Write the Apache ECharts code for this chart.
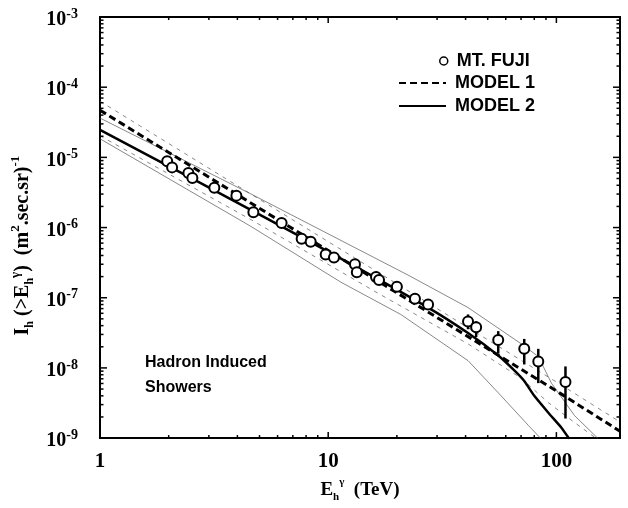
<!DOCTYPE html>
<html>
<head>
<meta charset="utf-8">
<script src="https://cdn.jsdelivr.net/npm/echarts@6.0.0/dist/echarts.min.js"></script>
<style>
  html, body { margin: 0; padding: 0; background: #fff; }
  #chart { width: 628px; height: 508px; }
</style>
</head>
<body>
<div id="chart"></div>
<script>
// Mt. Fuji measured points, I_h(>E) in (m^2.sec.sr)^-1 against E in TeV
const fujiE = [1.97, 2.07, 2.44, 2.54, 3.17, 3.96, 4.70, 6.25, 7.65, 8.38, 9.75, 10.6, 13.1, 13.35, 16.2, 16.7, 20.0, 24.0, 27.4, 41.0, 44.5, 55.6, 72.3, 83.3, 109.6]
const fujiI = [8.8e-6, 7.2e-6, 5.97e-6, 5.08e-6, 3.68e-6, 2.85e-6, 1.65e-6, 1.16e-6, 6.9e-7, 6.27e-7, 4.12e-7, 3.74e-7, 2.99e-7, 2.31e-7, 1.97e-7, 1.79e-7, 1.43e-7, 9.7e-8, 8.0e-8, 4.6e-8, 3.8e-8, 2.5e-8, 1.87e-8, 1.23e-8, 6.3e-9]

// error bars on the high energy points
const errE = [41.0, 44.5, 55.6, 72.3, 83.3, 109.6]
const errLo = [3.56e-8, 2.75e-8, 1.6e-8, 1.12e-8, 6.07e-9, 1.9e-9]
const errHi = [5.78e-8, 4.61e-8, 3.34e-8, 2.59e-8, 1.87e-8, 1.05e-8]

// model 1 (thick dashed) and its thin dashed band
const model1E = [1, 10, 100, 190]
const model1I = [4.7e-5, 4.7e-7, 4.7e-9, 1.25e-9]
const model1UpE = [1, 10, 100, 190]
const model1UpI = [6.3e-5, 6.3e-7, 6.3e-9, 1.7e-9]
const model1LoE = [1, 4.56, 17.0, 41.0, 70.2, 92.2, 120, 147]
const model1LoI = [2.03e-5, 1.31e-6, 1.1e-7, 2.2e-8, 7.1e-9, 3.2e-9, 1.67e-9, 1.03e-9]

// model 2 (thick solid) and its thin solid band
const model2E = [1, 2.75, 10, 27.4, 41.0, 55.6, 65.4, 72.3, 80.0, 92.2, 105, 114]
const model2I = [2.46e-5, 4.33e-6, 4.54e-7, 7.24e-8, 3.14e-8, 1.5e-8, 9.2e-9, 6.5e-9, 4.0e-9, 2.3e-9, 1.42e-9, 0.97e-9]
const model2UpE = [1, 4.56, 22.4, 41.0, 70.2, 83.4, 95.1, 120, 153]
const model2UpI = [3.63e-5, 3.04e-6, 2.1e-7, 7.24e-8, 2.2e-8, 1.45e-8, 6.07e-9, 2.1e-9, 0.97e-9]
const model2LoE = [1, 4.56, 11.35, 20.8, 41.0, 57.3, 75.3, 85.9]
const model2LoI = [1.84e-5, 1.05e-6, 1.67e-7, 5.78e-8, 1.27e-8, 3.99e-9, 1.52e-9, 0.97e-9]

// axes
const xMin = 1, xMax = 190
const yMin = 1e-9, yMax = 1e-3
const xDecades = [1, 10, 100]
const yDecades = [1e-9, 1e-8, 1e-7, 1e-6, 1e-5, 1e-4, 1e-3]
const minorSteps = [2, 3, 4, 5, 6, 7, 8, 9]

const zip = (a, b) => a.map((v, i) => [v, b[i]])

// tick marks inside the frame, on all four sides
const xTicks = []
xDecades.forEach(d => {
  xTicks.push([d, yMin, 6])
  minorSteps.forEach(m => { if (d * m < xMax) xTicks.push([d * m, yMin, 3]) })
})
const yTicks = []
yDecades.forEach(d => {
  yTicks.push([xMin, d, 7])
  if (d < yMax) minorSteps.forEach(m => yTicks.push([xMin, d * m, 3.5]))
})

const tickStyle = { stroke: '#000', lineWidth: 1.5 }

const chart = echarts.init(document.getElementById('chart'), null, { renderer: 'canvas' })

const serif = 'Liberation Serif'
const sans = 'Liberation Sans'

const option = {
  animation: false,
  backgroundColor: '#fff',
  grid: {
    left: 100,
    right: 8,
    top: 17,
    bottom: 61,
    show: true,
    borderColor: '#000',
    borderWidth: 2,
    backgroundColor: 'transparent'
  },
  title: {
    text: 'Hadron Induced\nShowers',
    left: 145,
    top: 350,
    padding: 0,
    textStyle: { fontFamily: sans, fontWeight: 'bold', fontSize: 16, lineHeight: 25, color: '#000' }
  },
  legend: [
    {
      data: [{ name: 'MT. FUJI', icon: 'circle', itemStyle: { color: '#fff', borderColor: '#000', borderWidth: 1.5, opacity: 1 } }],
      left: 439,
      top: 52,
      padding: 0,
      itemWidth: 8,
      itemHeight: 8,
      textStyle: { fontFamily: sans, fontWeight: 'bold', fontSize: 18, color: '#000', padding: [0, 0, 0, 4] }
    },
    {
      data: ['MODEL 1', 'MODEL 2'],
      orient: 'vertical',
      left: 398,
      top: 74,
      padding: 0,
      itemWidth: 47,
      itemHeight: 14,
      itemGap: 5,
      itemStyle: { opacity: 0 },
      textStyle: { fontFamily: sans, fontWeight: 'bold', fontSize: 18, color: '#000', padding: [0, 0, 0, 4] }
    }
  ],
  xAxis: {
    type: 'log',
    logBase: 10,
    min: xMin,
    max: xMax,
    axisLine: { show: false },
    axisTick: { show: false },
    splitLine: { show: false },
    axisLabel: {
      margin: 13,
      showMaxLabel: false,
      color: '#000',
      fontFamily: serif,
      fontWeight: 'bold',
      fontSize: 21,
      formatter: v => String(Math.round(v))
    },
    name: '{t|E}{sub|h}{sup|γ}{t|  (TeV)}',
    nameLocation: 'middle',
    nameGap: 37,
    nameTextStyle: {
      color: '#000',
      rich: {
        t: { fontFamily: serif, fontWeight: 'bold', fontSize: 19, lineHeight: 26, color: '#000' },
        sub: { fontFamily: serif, fontWeight: 'bold', fontSize: 11, lineHeight: 11, verticalAlign: 'bottom', color: '#000' },
        sup: { fontFamily: serif, fontWeight: 'bold', fontSize: 11, lineHeight: 11, verticalAlign: 'top', color: '#000' }
      }
    }
  },
  yAxis: {
    type: 'log',
    logBase: 10,
    min: yMin,
    max: yMax,
    axisLine: { show: false },
    axisTick: { show: false },
    splitLine: { show: false },
    axisLabel: {
      margin: 22,
      formatter: v => '{b|10}{s|' + Math.round(Math.log10(v)) + '}',
      rich: {
        b: { fontFamily: serif, fontWeight: 'bold', fontSize: 20, lineHeight: 20, padding: [6, 0, 0, 0], color: '#000' },
        s: { fontFamily: serif, fontWeight: 'bold', fontSize: 14, lineHeight: 14, verticalAlign: 'top', color: '#000' }
      }
    },
    name: '{t|I}{sub|h}{t| (>E}{sub|h}{sup|γ}{t|)  (m}{sup|2}{t|.sec.sr)}{sup|-1}',
    nameLocation: 'middle',
    nameRotate: 90,
    nameGap: 62,
    nameTextStyle: {
      color: '#000',
      padding: [0, 36, 0, 0],
      rich: {
        t: { fontFamily: serif, fontWeight: 'bold', fontSize: 20, lineHeight: 26, color: '#000' },
        sub: { fontFamily: serif, fontWeight: 'bold', fontSize: 12, lineHeight: 12, verticalAlign: 'bottom', color: '#000' },
        sup: { fontFamily: serif, fontWeight: 'bold', fontSize: 13, lineHeight: 13, verticalAlign: 'top', color: '#000' }
      }
    }
  },
  series: [
    {
      name: 'MODEL 1 upper',
      type: 'line',
      data: zip(model1UpE, model1UpI),
      symbol: 'none',
      silent: true,
      lineStyle: { color: '#555', width: 0.7, type: [4, 5] },
      z: 2
    },
    {
      name: 'MODEL 1 lower',
      type: 'line',
      data: zip(model1LoE, model1LoI),
      symbol: 'none',
      silent: true,
      lineStyle: { color: '#555', width: 0.7, type: [4, 5] },
      z: 2
    },
    {
      name: 'MODEL 2 upper',
      type: 'line',
      data: zip(model2UpE, model2UpI),
      symbol: 'none',
      silent: true,
      lineStyle: { color: '#555', width: 0.7 },
      z: 2
    },
    {
      name: 'MODEL 2 lower',
      type: 'line',
      data: zip(model2LoE, model2LoI),
      symbol: 'none',
      silent: true,
      lineStyle: { color: '#555', width: 0.7 },
      z: 2
    },
    {
      name: 'MODEL 1',
      type: 'line',
      data: zip(model1E, model1I),
      symbol: 'none',
      itemStyle: { color: '#000' },
      lineStyle: { color: '#000', width: 3, type: [7, 4] },
      z: 3
    },
    {
      name: 'MODEL 2',
      type: 'line',
      data: zip(model2E, model2I),
      symbol: 'none',
      smooth: 0.2,
      itemStyle: { color: '#000' },
      lineStyle: { color: '#000', width: 2.5 },
      z: 3
    },
    {
      name: 'errors',
      type: 'custom',
      data: errE.map((e, i) => [e, errLo[i], errHi[i]]),
      z: 4,
      silent: true,
      renderItem: (params, api) => {
        const lo = api.coord([api.value(0), api.value(1)])
        const hi = api.coord([api.value(0), api.value(2)])
        return {
          type: 'line',
          shape: { x1: lo[0], y1: lo[1], x2: hi[0], y2: hi[1] },
          style: { stroke: '#000', lineWidth: 2.5 }
        }
      }
    },
    {
      name: 'MT. FUJI',
      type: 'scatter',
      data: zip(fujiE, fujiI),
      symbol: 'circle',
      symbolSize: 10,
      itemStyle: { color: '#fff', borderColor: '#000', borderWidth: 2, opacity: 1 },
      z: 5
    },
    {
      name: 'xticks',
      type: 'custom',
      data: xTicks,
      silent: true,
      z: 6,
      renderItem: (params, api) => {
        const cs = params.coordSys
        const x = api.coord([api.value(0), yMin])[0]
        const len = api.value(2)
        return {
          type: 'group',
          children: [
            { type: 'line', shape: { x1: x, y1: cs.y + cs.height, x2: x, y2: cs.y + cs.height - len }, style: tickStyle },
            { type: 'line', shape: { x1: x, y1: cs.y, x2: x, y2: cs.y + len }, style: tickStyle }
          ]
        }
      }
    },
    {
      name: 'yticks',
      type: 'custom',
      data: yTicks,
      silent: true,
      z: 6,
      renderItem: (params, api) => {
        const cs = params.coordSys
        const y = api.coord([xMin, api.value(1)])[1]
        const len = api.value(2)
        return {
          type: 'group',
          children: [
            { type: 'line', shape: { x1: cs.x, y1: y, x2: cs.x + len, y2: y }, style: tickStyle },
            { type: 'line', shape: { x1: cs.x + cs.width, y1: y, x2: cs.x + cs.width - len, y2: y }, style: tickStyle }
          ]
        }
      }
    }
  ]
}

chart.setOption(option)
</script>
</body>
</html>
